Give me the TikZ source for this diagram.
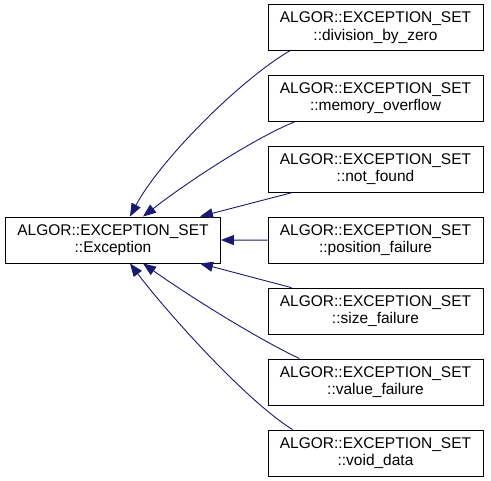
\documentclass[tikz,border=0pt]{standalone}
\usepackage{fontspec}
\setmainfont{Liberation Sans}
\usetikzlibrary{arrows.meta,calc}
\definecolor{EdgeBlue}{RGB}{25,25,112}

\begin{document}
\begin{tikzpicture}[
  x=1pt, y=-1pt,
  cls/.style={
    rectangle, draw=black, fill=white, line width=0.9pt,
    minimum width=215pt, minimum height=46pt, inner sep=0pt,
    align=center, font=\fontsize{15.5}{17.5}\selectfont
  },
  inh/.style={{Triangle[length=13pt,width=10pt]}-, line width=0.9pt, EdgeBlue}
]
\useasboundingbox (0,0) rectangle (491,481);

% ---- Base class ----
\node[cls] (exc) at (113,240) {ALGOR::EXCEPTION\_SET\\::Exception};

% ---- Derived classes ----
\node[cls] (div)  at (375.5, 27.5) {ALGOR::EXCEPTION\_SET\\::division\_by\_zero};
\node[cls] (mem)  at (375.5, 98.4) {ALGOR::EXCEPTION\_SET\\::memory\_overflow};
\node[cls] (nf)   at (375.5,169.3) {ALGOR::EXCEPTION\_SET\\::not\_found};
\node[cls] (pos)  at (375.5,240.2) {ALGOR::EXCEPTION\_SET\\::position\_failure};
\node[cls] (size) at (375.5,311.1) {ALGOR::EXCEPTION\_SET\\::size\_failure};
\node[cls] (val)  at (375.5,382.0) {ALGOR::EXCEPTION\_SET\\::value\_failure};
\node[cls] (void) at (375.5,453.0) {ALGOR::EXCEPTION\_SET\\::void\_data};

% ---- Inheritance arrows ----
\draw[inh] ([xshift=17pt]exc.north) .. controls (160,160) and (240,80) .. ([xshift=22pt]div.south west);
\draw[inh] ([xshift=30pt]exc.north) .. controls (190,180) and (255,138) .. ([xshift=27pt]mem.south west);
\draw[inh] ([xshift=87pt]exc.north) -- ([xshift=24pt]nf.south west);
\draw[inh] (exc.east) -- (pos.west);
\draw[inh] ([xshift=87pt]exc.south) -- ([xshift=24pt]size.north west);
\draw[inh] ([xshift=30pt]exc.south) .. controls (195,300) and (260,340) .. ([xshift=32pt]val.north west);
\draw[inh] ([xshift=17pt]exc.south) .. controls (165,310) and (245,400) .. ([xshift=25pt]void.north west);

\end{tikzpicture}
\end{document}
